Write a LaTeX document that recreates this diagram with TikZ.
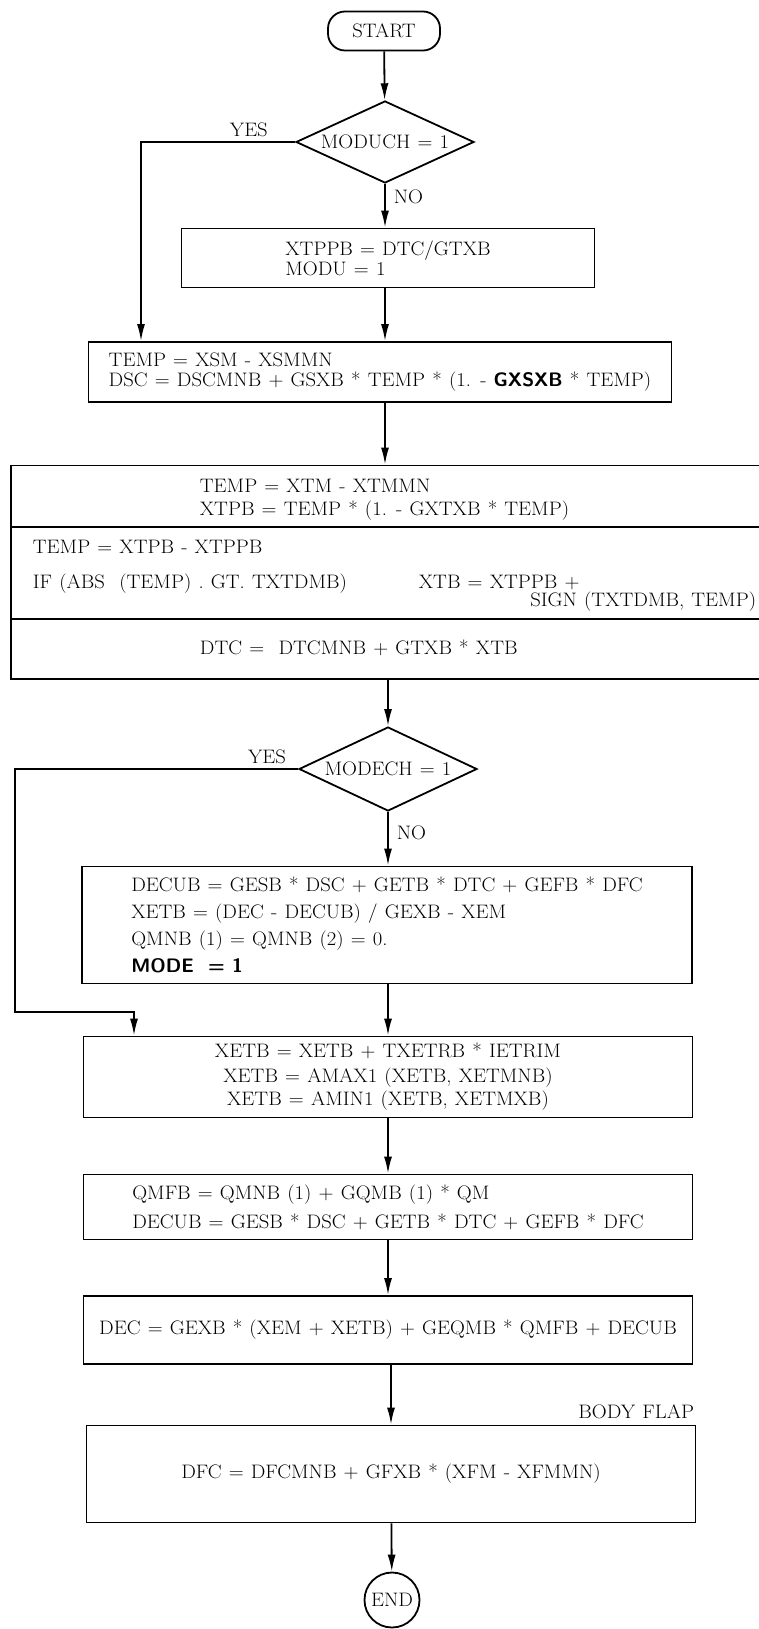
\documentclass[tikz,border=0pt]{standalone}
\usepackage{fontspec}
\setmainfont{Latin Modern Roman}[WordSpace=1.15,FakeStretch=1.06]
\usetikzlibrary{shapes.geometric,arrows.meta}
\tikzset{>={Latex[length=17pt,width=8pt]}}

\begin{document}
\begin{tikzpicture}[x=1pt,y=-1pt,line width=1.8pt,
    font=\fontsize{19.5}{20}\selectfont,
    box/.style={draw,rectangle,inner sep=0pt,align=left},
    decision/.style={draw,diamond,inner sep=0pt,aspect=2.15},
    terminal/.style={draw,rounded corners=17pt,inner sep=0pt},
    txt/.style={inner sep=0pt,anchor=base west},
    lbl/.style={inner sep=0pt}]
  \useasboundingbox (0,0) rectangle (759,1629); % page in pixels
  \def\W{609pt} % width of the lower boxes
  \node[terminal,minimum width=112pt,minimum height=39pt] (start) at (384,31) {START};
  \node[decision,minimum width=178pt,minimum height=82pt] (moduch) at (385,142) {MODUCH = 1};
  \node[box,minimum width=413pt,minimum height=59pt] (xtppb) at (388,258)
    {XTPPB = DTC/GTXB\\MODU = 1};
  \node[box,minimum width=583pt,minimum height=60pt] (temps) at (380,372)
    {TEMP = XSM - XSMMN\\DSC = DSCMNB + GSXB * TEMP * (1. - \textsf{\bfseries GXSXB} * TEMP)};
  % throttle box, open to the right
  \node[box,minimum width=760pt,minimum height=61pt] (tsec1) at (391,496) {};
  \node[box,minimum width=760pt,minimum height=92pt] (tsec2) at (391,573) {};
  \node[box,minimum width=760pt,minimum height=60pt] (tsec3) at (391,649) {};
  \node[txt] (tline1) at (199,492) {TEMP = XTM - XTMMN};
  \node[txt] (tline2) at (199,515) {XTPB = TEMP * (1. - GXTXB * TEMP)};
  \node[txt] (tline3) at (32,553) {TEMP = XTPB - XTPPB};
  \node[txt] (tline4) at (32,588) {IF (ABS \ (TEMP) . GT. TXTDMB)};
  \node[txt] (tline5) at (418,588) {XTB = XTPPB +};
  \node[txt,anchor=base east] (tline6) at (757,606) {SIGN (TXTDMB, TEMP)};
  \node[txt] (tline7) at (199,654) {DTC = \ DTCMNB + GTXB * XTB};
  \node[decision,minimum width=178pt,minimum height=84pt] (modech) at (388,769) {MODECH = 1};
  \node[box,minimum width=610pt,minimum height=117pt] (decub) at (387,925)
    {DECUB = GESB * DSC + GETB * DTC + GEFB * DFC\\[7pt]
     XETB = (DEC - DECUB) / GEXB - XEM\\[7pt]
     QMNB (1) = QMNB (2) = 0.\\[7pt]
     \textsf{\bfseries MODE \ = 1}};
  \node[box,align=center,minimum width=\W,minimum height=81pt] (xetb) at (388,1077)
    {XETB = XETB + TXETRB * IETRIM\\[5pt]
     XETB = AMAX1 (XETB, XETMNB)\\[3pt]
     XETB = AMIN1 (XETB, XETMXB)};
  \node[box,minimum width=\W,minimum height=65pt] (qmfb) at (388,1207)
    {QMFB = QMNB (1) + GQMB (1) * QM\\[9pt]
     DECUB = GESB * DSC + GETB * DTC + GEFB * DFC};
  \node[box,minimum width=\W,minimum height=68pt] (dec) at (388,1330)
    {DEC = GEXB * (XEM + XETB) + GEQMB * QMFB + DECUB};
  \node[box,minimum width=\W,minimum height=97pt] (dfc) at (391,1474)
    {DFC = DFCMNB + GFXB * (XFM - XFMMN)};
  \node[lbl,anchor=base east] (flap) at (695,1418) {BODY FLAP};
  \node[draw,circle,minimum size=55pt,inner sep=0pt] (end) at (392,1600) {END};
  % corners of the YES branches
  \coordinate (yes1) at (141,142);
  \coordinate (yes2) at (15,769);
  \coordinate (yes3) at (15,1012);
  \coordinate (yes4) at (134,1012);
  \draw[->] (start) -- (moduch);
  \draw[->] (moduch.south) -- node[lbl,pos=0.3,right=8pt] {NO} (moduch.south |- xtppb.north);
  \draw[->] (moduch.west) -- node[lbl,pos=0.3,above=4pt] {YES} (yes1) -- (yes1 |- temps.north);
  \draw[->] (xtppb.south -| moduch) -- (moduch |- temps.north);
  \draw[->] (temps.south -| moduch) -- (moduch |- tsec1.north);
  \draw[->] (tsec3.south -| modech) -- (modech.north);
  \draw[->] (modech.south) -- node[lbl,pos=0.39,right=8pt] {NO} (modech.south |- decub.north);
  \draw[->] (modech.west) -- node[lbl,pos=0.11,above=4pt] {YES} (yes2) -- (yes3) -- (yes4)
    -- (yes4 |- xetb.north);
  \draw[->] (decub.south -| modech) -- (modech |- xetb.north);
  \draw[->] (xetb) -- (qmfb);
  \draw[->] (qmfb) -- (dec);
  \draw[->] (dec.south -| dfc) -- (dfc.north);
  \draw[->] (dfc) -- (end);
\end{tikzpicture}
\end{document}
